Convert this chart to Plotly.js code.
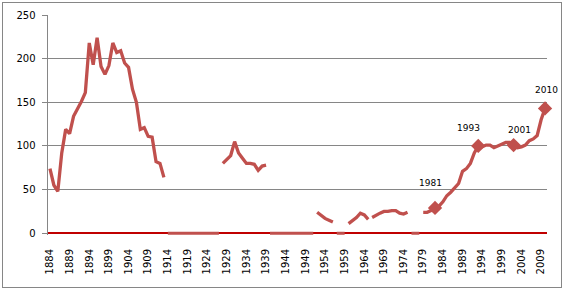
<!DOCTYPE html>
<html><head><meta charset="utf-8">
<script src="https://cdn.plot.ly/plotly-3.0.1.min.js"></script>
<style>
html,body{margin:0;padding:0;background:#fff;overflow:hidden}
#chart{position:absolute;left:0;top:0;width:566px;height:293px}
#frame{position:absolute;left:2px;top:2px;width:560px;height:286px;border:1px solid #868686;box-sizing:border-box;pointer-events:none}
</style></head><body>
<div id="chart"></div><div id="frame"></div>
<script>
// ---- data ----
const seg1Start = 1884;
const seg1Values = [74,55,48,92,119,114,134,142,151,161,218,193,224,191,182,192,218,207,209,195,190,165,150,119,121,111,110,82,80,64];
const seg2Start = 1928;
const seg2Values = [80,84,89,105,92,86,80,80,79,72,77,78];
const seg3Start = 1952;
const seg3Values = [24,20,17,15,13];
const seg4Start = 1960;
const seg4Values = [11,14,18,23,21,16];
const seg5Start = 1966;
const seg5Values = [18,21,23,25,25,26,26,23,22,24];
const seg6Start = 1979;
const seg6Values = [24,24,26,29,31,36,43,47,52,57,71,74,80,92,100,99,101,101,98,100,103,104,104,101,98,99,101,106,108,112,130,143];
// years drawn at zero
const zeroStarts = [1914,1940,1957,1976];
const zeroEnds   = [1927,1951,1959,1978];
// highlighted points
const markerYears  = [1982,1993,2002,2010];
const markerLabels = ['1981','1993','2001','2010'];
// tick labels
const tickYears = [];
for (let y = 1884; y <= 2009; y += 5) tickYears.push(y);
const tickLabels = tickYears.map(String);
const yTicks = [0,50,100,150,200,250];

// ---- build ----
function yearsFrom(start, n){ const a=[]; for(let i=0;i<n;i++) a.push(start+i); return a; }
const segs = [[seg1Start,seg1Values],[seg2Start,seg2Values],[seg3Start,seg3Values],
              [seg4Start,seg4Values],[seg5Start,seg5Values],[seg6Start,seg6Values]];
const LINE = '#C0504D';
const traces = [];
zeroStarts.forEach((s,i)=>{
  const yrs = yearsFrom(s, zeroEnds[i]-s+1);
  traces.push({x:yrs, y:yrs.map(()=>0), mode:'lines', line:{color:LINE,width:3}, hoverinfo:'skip'});
});
segs.forEach(([s,v])=>{
  traces.push({x:yearsFrom(s,v.length), y:v, mode:'lines', line:{color:LINE,width:3.3}, hoverinfo:'skip'});
});
const markerValues = markerYears.map(y=>seg6Values[y-seg6Start]);
traces.push({x:markerYears, y:markerValues, mode:'markers',
  marker:{symbol:'diamond', size:11, color:LINE}, cliponaxis:false, hoverinfo:'skip'});

const labelDx = [-5, -10, 6, 1];
const labelDy = [25, 18, 15, 18];
const annotations = markerYears.map((yr,i)=>({
  x: yr, y: markerValues[i], xref:'x', yref:'y', text: markerLabels[i], showarrow:false,
  xanchor:'center', yanchor:'middle', xshift: labelDx[i], yshift: labelDy[i],
  font:{family:'DejaVu Sans', size:9, color:'#000'}
}));

const layout = {
  width:566, height:293,
  margin:{l:48, r:19, t:15, b:58, pad:0},
  paper_bgcolor:'#fff', plot_bgcolor:'#fff',
  showlegend:false, hovermode:false,
  font:{family:'DejaVu Sans', size:10, color:'#000'},
  xaxis:{
    range:[1883.5, 2010.5], tickmode:'array', tickvals:tickYears, ticktext:tickLabels,
    tickangle:-90, showgrid:false, zeroline:false, showline:false,
    ticks:'outside', ticklen:9, tickcolor:'rgba(0,0,0,0)',
    tickfont:{family:'DejaVu Sans', size:10, color:'#000'}
  },
  yaxis:{
    range:[-2, 250], tickmode:'array', tickvals:yTicks,
    showgrid:true, gridcolor:'#868686', gridwidth:1,
    zeroline:true, zerolinecolor:'#C00000', zerolinewidth:2.2,
    showline:true, linecolor:'#868686', linewidth:1,
    ticks:'outside', ticklen:5, tickcolor:'#868686',
    tickfont:{family:'DejaVu Sans', size:10, color:'#000'}
  },
  annotations: annotations
};
const LABEL_RIGHT = 35.5; // right edge of the y tick labels in the reference
Plotly.newPlot('chart', traces, layout, {staticPlot:true, displayModeBar:false}).then(()=>{
  document.querySelectorAll('#chart .ytick text').forEach(t=>{
    const r = t.getBoundingClientRect();
    const dx = LABEL_RIGHT - r.right;
    const tr = t.getAttribute('transform') || '';
    t.setAttribute('transform', 'translate(' + dx.toFixed(2) + ',0) ' + tr);
  });
});
</script>
</body></html>
